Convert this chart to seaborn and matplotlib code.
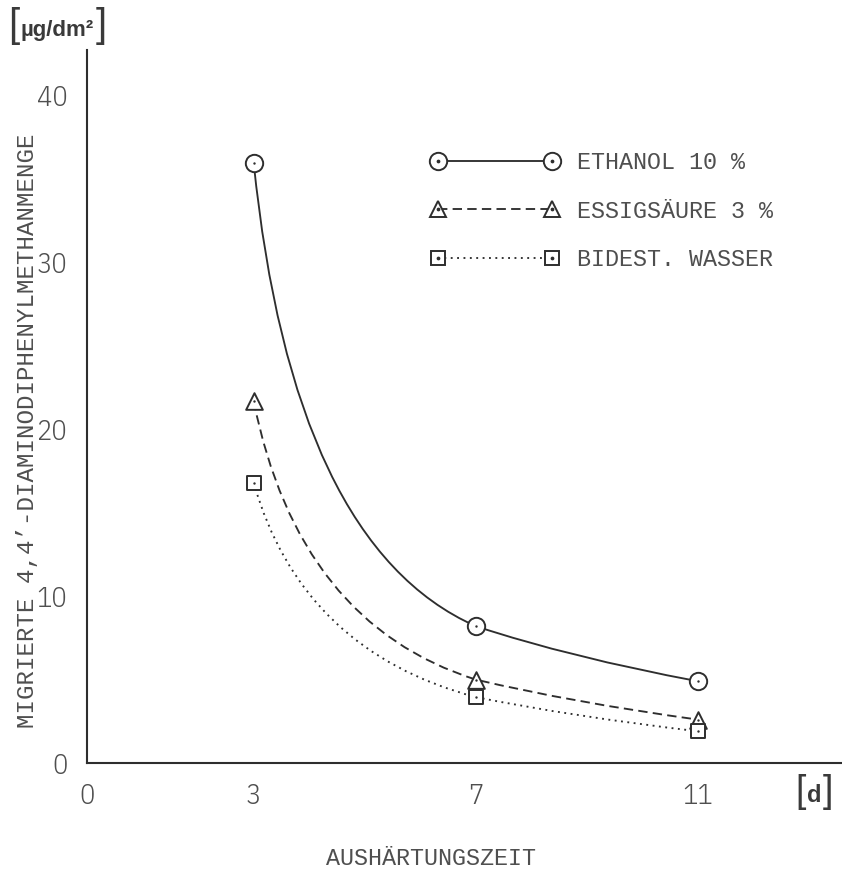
import numpy as np
import pandas as pd
import matplotlib
matplotlib.use("Agg")
import matplotlib.pyplot as plt
import seaborn as sns
from matplotlib.path import Path
from matplotlib.patches import PathPatch
from matplotlib.lines import Line2D
from matplotlib.legend_handler import HandlerTuple

# ---------------- data ----------------
days = [3, 7, 11]
ethanol = [36.0, 8.2, 4.9]
essig = [21.7, 5.0, 2.6]
wasser = [16.8, 3.95, 1.9]
series_labels = ["ETHANOL 10 %", "ESSIGSÄURE 3 %", "BIDEST. WASSER"]
x_ticks = [0, 3, 7, 11]
y_ticks = [0, 10, 20, 30, 40]
x_label = "AUSHÄRTUNGSZEIT"
y_label = "MIGRIERTE 4,4’-DIAMINODIPHENYLMETHANMENGE"
unit_y = ["[", "µg/dm²", "]"]
unit_x = ["[", "d", "]"]

# ---------------- style ----------------
sns.set_style("white")
MONO = ["Liberation Mono", "DejaVu Sans Mono"]
TICKF = ["IBM Plex Sans Condensed", "DejaVu Sans"]
BOLDF = ["Liberation Sans", "DejaVu Sans"]
plt.rcParams["font.family"] = MONO
INK = "#2e2e2e"
TXT = "#4f4f4f"
W, H = 842, 873

fig = plt.figure(figsize=(W / 100, H / 100), dpi=100)
fig.patch.set_facecolor("white")
X0, Y0, YTOP = 87, 763, 50
PX_X, PX_Y = 55.55, 16.68
ax = fig.add_axes([X0 / W, 1 - Y0 / H, (W - X0) / W, (Y0 - YTOP) / H])
ax.set_facecolor("white")
ax.set_xlim(0, (W - X0) / PX_X)
ax.set_ylim(0, (Y0 - YTOP) / PX_Y)

for s in ["top", "right"]:
    ax.spines[s].set_visible(False)
for s in ["left", "bottom"]:
    ax.spines[s].set_linewidth(1.5)
    ax.spines[s].set_color(INK)

ax.set_xticks(x_ticks)
ax.set_yticks(y_ticks)
ax.set_xticklabels([str(v) for v in x_ticks])
ax.set_yticklabels([str(v) for v in y_ticks])
ax.tick_params(axis="both", direction="out", length=7.2, width=1.4,
               color=INK, labelcolor=TXT, labelsize=20.5, pad=7)
for lab in ax.get_xticklabels() + ax.get_yticklabels():
    lab.set_family(TICKF)
    lab.set_weight(300)
ax.grid(False)


# ---------------- curves ----------------
def tangent_slopes(x, y):
    x1, x2, x3 = x
    y1, y2, y3 = y
    R = (y1 - y2) / (y2 - y3)
    k = R * (x3 - x2) / (x2 - x1)
    c = (k * x1 - x3) / (k - 1)
    b = (y1 - y2) * (x1 - c) * (x2 - c) / (x2 - x1)
    return [-b / (xi - c) ** 2 for xi in x]


def curve_path(x, y):
    m = tangent_slopes(x, y)
    verts = [(x[0], y[0])]
    codes = [Path.MOVETO]
    xc = (y[1] - y[0] + m[0] * x[0] - m[1] * x[1]) / (m[0] - m[1])
    yc = y[0] + m[0] * (xc - x[0])
    verts += [(xc, yc), (x[1], y[1])]
    codes += [Path.CURVE3, Path.CURVE3]
    xc = (y[2] - y[1] + m[1] * x[1] - m[2] * x[2]) / (m[1] - m[2])
    yc = y[1] + m[1] * (xc - x[1])
    xc2 = 0.5 * (xc + 0.5 * (x[1] + x[2]))
    yc2 = 0.5 * (yc + 0.5 * (y[1] + y[2]))
    verts += [(xc2, yc2), (x[2], y[2])]
    codes += [Path.CURVE3, Path.CURVE3]
    return Path(verts, codes)


styles = [
    dict(vals=ethanol, ls="-", marker="o", ms=12.5),
    dict(vals=essig, ls=(0, (5, 2.8)), marker="^", ms=12.0),
    dict(vals=wasser, ls=(0, (1, 2.4)), marker="s", ms=9.5),
]
LW = 1.35
for st in styles:
    patch = PathPatch(curve_path(days, st["vals"]), fill=False, edgecolor=INK,
                      lw=LW, linestyle=st["ls"], zorder=2)
    ax.add_patch(patch)
    df = pd.DataFrame({"d": days, "v": st["vals"]})
    sns.scatterplot(data=df, x="d", y="v", marker=st["marker"], s=st["ms"] ** 2,
                    color="white", edgecolor=INK, linewidth=1.4, zorder=4,
                    ax=ax, legend=False)
    sns.scatterplot(data=df, x="d", y="v", marker="o", s=3, color=INK,
                    linewidth=0, zorder=5, ax=ax, legend=False)
ax.set_xlabel("")
ax.set_ylabel("")


def fxy(px, py):
    return (px / W, 1 - py / H)


# ---------------- legend ----------------
handles = []
for st in styles:
    ln = Line2D([], [], color=INK, lw=LW, ls=st["ls"], marker=st["marker"],
                ms=st["ms"], mfc="white", mec=INK, mew=1.4)
    dot = Line2D([], [], ls="none", marker="o", ms=1.7, color=INK)
    handles.append((ln, dot))
LEG_FS = 16.8
leg = ax.legend(handles, series_labels, loc="upper left",
                bbox_to_anchor=fxy(431, 151), bbox_transform=fig.transFigure,
                frameon=False, fontsize=LEG_FS, numpoints=2, handlelength=5.5,
                handletextpad=0.75, labelspacing=1.1, borderpad=0,
                borderaxespad=0, labelcolor=TXT,
                handler_map={tuple: HandlerTuple(ndivide=1, pad=0)})

# ---------------- axis labels ----------------
fig.text(27.5 / W, 1 - 431 / H, y_label, rotation=90, ha="center", va="center",
         fontsize=17.4, color=TXT, family=MONO)
fig.text(431 / W, 1 - 865 / H, x_label, ha="center", va="baseline",
         fontsize=16.8, color=TXT, family=MONO)


# unit labels: bracket / text / bracket
def bracketed(parts, left_px, base_px, bsize, tsize):
    D = 0.21
    t0 = ax.annotate(parts[0], xy=fxy(left_px, base_px), xycoords="figure fraction",
                     ha="left", va="baseline", fontsize=bsize, color="#3a3a3a",
                     family=BOLDF, annotation_clip=False)
    t1 = ax.annotate(parts[1], xy=(1, 0), xycoords=t0, xytext=(1, D * (bsize - tsize)),
                     textcoords="offset points", ha="left", va="bottom",
                     fontsize=tsize, weight="bold", color="#3a3a3a", family=BOLDF,
                     annotation_clip=False)
    ax.annotate(parts[2], xy=(1, 0), xycoords=t1, xytext=(1, -D * (bsize - tsize)),
                textcoords="offset points", ha="left", va="bottom", fontsize=bsize,
                color="#3a3a3a", family=BOLDF, annotation_clip=False)


bracketed(unit_y, 8, 37, 29, 16)
bracketed(unit_x, 795, 802, 27, 17)

fig.savefig("out.png", dpi=100, facecolor="white")
